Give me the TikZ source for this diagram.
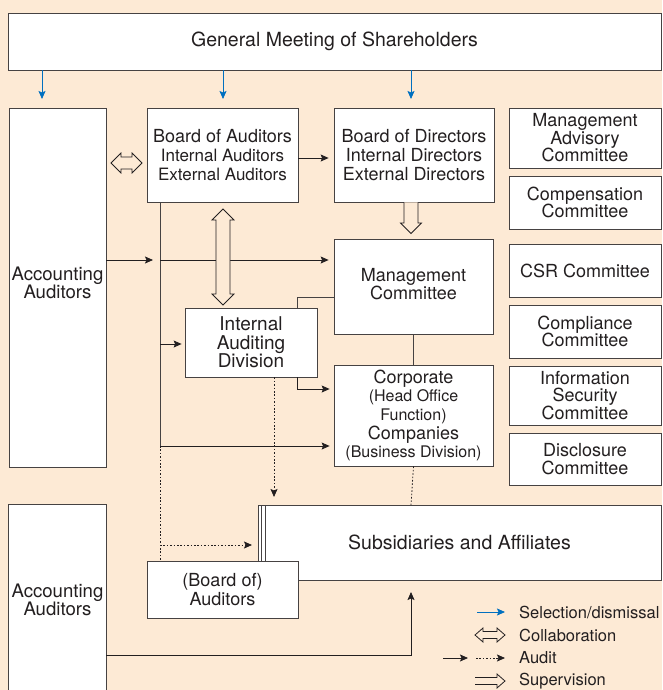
\documentclass[tikz,border=0pt]{standalone}
\usepackage{fontspec}
\setmainfont{TeX Gyre Heros}
\usetikzlibrary{arrows.meta}
\newcommand\myfs[2]{\fontsize{#1}{#2}\selectfont}
\definecolor{bg}{RGB}{253,234,213}
\definecolor{textc}{RGB}{35,31,32}
\definecolor{linec}{RGB}{70,66,66}
\definecolor{arrc}{RGB}{35,31,32}
\definecolor{bluec}{RGB}{0,112,192}
\tikzset{
  box/.style={draw=linec, line width=0.8pt, fill=white, text=textc, align=center, inner sep=0pt, font=\myfs{18}{18.7}},
  cbox/.style={box, minimum width=152pt, font=\myfs{18}{17.5}},
  txt/.style={text=textc, align=center, inner sep=0pt, font=\myfs{18}{18.7}},
  conn/.style={draw=linec, line width=0.8pt},
  audit/.style={draw=arrc, line width=0.8pt, -{Stealth[length=8pt,width=7pt,inset=1.5pt]}},
  dotaudit/.style={audit, dash pattern=on 1.6pt off 1.8pt},
  dotline/.style={draw=arrc, line width=0.8pt, dash pattern=on 1.6pt off 1.8pt},
  sel/.style={draw=bluec, line width=0.8pt, -{Stealth[length=8pt,width=7pt,inset=1.5pt]}},
  hollow/.style={draw=arrc, line width=0.8pt, fill=bg, line join=miter},
  legend/.style={anchor=west, inner sep=0pt, text=textc, font=\myfs{16.5}{18}}
}
\begin{document}
\begin{tikzpicture}[x=1pt,y=-1pt]
\fill[bg] (0,0) rectangle (662,690);
\useasboundingbox (0,0) rectangle (662,690);

% top
\node[box, minimum width=653pt, minimum height=57pt, font=\myfs{19.5}{20}] (gm) at (334.5,41.5) {General Meeting of Shareholders};

% boxes
\node[box, minimum width=97pt, minimum height=359pt] (acc1) at (57.5,287.5) {};
\node[txt, font=\myfs{18.6}{18.7}, yshift=4.5pt] (acc1t) at (acc1.center) {Accounting\\Auditors};
\node[box, minimum width=151pt, minimum height=94pt, font=\myfs{17}{18.7}] (boa) at (222.5,155) {{\myfs{18}{18.7}Board of Auditors}\\Internal Auditors\\External Auditors};
\node[box, minimum width=160pt, minimum height=94pt] (bod) at (414,155) {Board of Directors\\Internal Directors\\External Directors};

\node[cbox, minimum height=60pt] (mac) at (585,138) {Management\\Advisory\\Committee};
\node[cbox, minimum height=53pt] (comp) at (585,202.5) {Compensation\\Committee};
\node[cbox, minimum height=53pt] (csr) at (585,270.5) {CSR Committee};
\node[cbox, minimum height=53pt] (compl) at (585,331.5) {Compliance\\Committee};
\node[cbox, minimum height=59pt] (infosec) at (585,395.5) {Information\\Security\\Committee};
\node[cbox, minimum height=52pt] (disc) at (585,459) {Disclosure\\Committee};

\node[box, minimum width=159pt, minimum height=95pt] (mgmt) at (413.5,286.5) {};
\node[txt, yshift=2.5pt] (mgmtt) at (mgmt.center) {Management\\Committee};
\node[box, minimum width=132pt, minimum height=69pt, font=\myfs{19}{18.5}] (iad) at (251,342.5) {Internal\\Auditing\\Division};
\node[box, minimum width=159pt, minimum height=101pt] (corp) at (413.5,415.5) {Corporate\\{\myfs{16}{18.7}(Head Office}\\{\myfs{16}{18.7}Function)}\\Companies\\{\myfs{16}{18.7}(Business Division)}};

% connectors in upper part
\draw[audit] (boa.east |- 0,158) -- ([xshift=-5pt]bod.west |- 0,158);
\draw[audit] (acc1.east |- 0,260) -- (153,260);
\draw[conn] (boa.south -| 160,0) -- (160,446);
\draw[audit] (160,260) -- ([xshift=-5pt]mgmt.west |- 0,260);
\draw[audit] (160,446) -- ([xshift=-4pt]corp.west |- 0,446);
\draw[audit] (160,344) -- ([xshift=-3pt]iad.west |- 0,344);
\draw[conn] (mgmt.west |- 0,297) -- (297,297) -- (iad.north -| 297,0);
\draw[conn] (mgmt.south) -- (corp.north);
\draw[audit] (iad.south -| 297,0) -- (297,389) -- ([xshift=-4pt]corp.west |- 0,389);

% selection arrows
\draw[sel] (gm.south -| 42,0) -- (42,99);
\draw[sel] (gm.south -| 223,0) -- (223,99);
\draw[sel] (gm.south -| 411,0) -- (411,99);

% collaboration arrows
\draw[hollow] (111,163) -- (121,153) -- (121,157) -- (132,157) -- (132,153) -- (142,163) -- (132,173) -- (132,169) -- (121,169) -- (121,173) -- cycle;
\draw[hollow] (223,209) -- (234,220) -- (230,220) -- (230,294) -- (234,294) -- (223,305) -- (212,294) -- (216,294) -- (216,220) -- (212,220) -- cycle;
% supervision
\draw[hollow] (404,202.4) -- (404,223) -- (400.5,223) -- (411,233.5) -- (421.5,223) -- (418,223) -- (418,202.4);

% lower part
\draw[dotline] (160,446) -- (160,561);
\draw[dotaudit] (160,545) -- (252,545);
\draw[dotaudit] (iad.south -| 274,0) -- (274,497);
\draw[dotline] (corp.south) -- (411,505);

\node[box, minimum width=403pt, minimum height=75pt, font=\myfs{19.5}{20}] (subs) at (459.5,542.5) {Subsidiaries and Affiliates};
\draw[conn] (261.5,505) -- (261.5,580);
\draw[conn] (265,505) -- (265,580);
\node[box, minimum width=151pt, minimum height=57pt] (boa2) at (222.5,589.5) {(Board of)\\Auditors};

\node[box, draw=none, minimum width=97pt, minimum height=190pt, font=\myfs{18.6}{18.7}] (acc2) at (57.5,600) {Accounting\\Auditors};
\draw[conn] (acc2.south west) -- (acc2.north west) -- (acc2.north east) -- (acc2.south east);
\draw[audit] (acc2.east |- 0,655) -- (411,655) -- (411,592);

% legend
\draw[sel] (477,612) -- (505,612);
\node[legend] (l1) at (519,612) {Selection/dismissal};
\draw[hollow] (475,635) -- (483,628) -- (483,631.5) -- (497,631.5) -- (497,628) -- (505,635) -- (497,642) -- (497,638.5) -- (483,638.5) -- (483,642) -- cycle;
\node[legend] (l2) at (519,635) {Collaboration};
\draw[audit] (443,658) -- (468,658);
\draw[dotaudit] (476,658) -- (505,658);
\node[legend] (l3) at (519,658) {Audit};
\draw[hollow] (475,677.5) -- (497,677.5) -- (497,674) -- (505,681) -- (497,688) -- (497,684.5) -- (475,684.5);
\node[legend] (l4) at (519,681) {Supervision};
\end{tikzpicture}
\end{document}
